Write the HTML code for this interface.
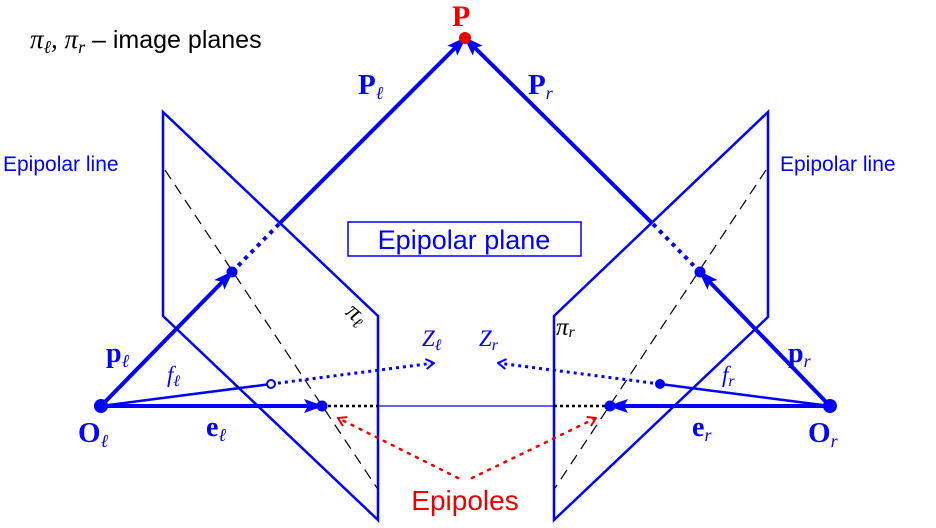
<!DOCTYPE html>
<html><head><style>body{margin:0;background:#fff}svg{display:block}</style></head><body>
<svg width="936" height="528" viewBox="0 0 936 528" xmlns="http://www.w3.org/2000/svg">
<defs>
<marker id="big" markerWidth="20" markerHeight="14" refX="18" refY="7" orient="auto" markerUnits="userSpaceOnUse"><path d="M0,0 L20,7 L0,14 L4,7 Z" fill="#00f"/></marker>
<marker id="open" markerWidth="10" markerHeight="12" refX="9" refY="6" orient="auto" markerUnits="userSpaceOnUse"><path d="M1,1 L9,6 L1,11" fill="none" stroke="#00f" stroke-width="2"/></marker>
<marker id="ored" markerWidth="10" markerHeight="12" refX="9" refY="6" orient="auto" markerUnits="userSpaceOnUse"><path d="M1,1 L9,6 L1,11" fill="none" stroke="#e00" stroke-width="2"/></marker>
</defs>
<g font-family="Liberation Serif, serif">
<text x="30" y="48" font-size="27" font-style="italic">π<tspan font-size="18" dy="5">ℓ</tspan><tspan dy="-5">, π</tspan><tspan font-size="18" dy="5">r</tspan><tspan dy="-5" font-style="normal" font-family="Liberation Sans, sans-serif" font-size="25"> – image planes</tspan></text>
</g>
<polygon points="163,112 378,316 378,520 163,316" fill="none" stroke="#00f" stroke-width="2.5"/>
<polygon points="768,112 554,316 554,520 768,317" fill="none" stroke="#00f" stroke-width="2.5"/>
<line x1="165" y1="170" x2="377" y2="488" stroke="#000" stroke-width="1.2" stroke-dasharray="11,7"/>
<line x1="766" y1="170" x2="555" y2="488" stroke="#000" stroke-width="1.2" stroke-dasharray="11,7"/>
<line x1="322" y1="406" x2="378" y2="406" stroke="#000" stroke-width="2.5" stroke-dasharray="3,3"/>
<line x1="378" y1="406" x2="554" y2="406" stroke="#00f" stroke-width="1.2"/>
<line x1="554" y1="406" x2="610" y2="406" stroke="#000" stroke-width="2.5" stroke-dasharray="3,3"/>
<line x1="101" y1="406" x2="322" y2="406" stroke="#00f" stroke-width="4" marker-end="url(#big)"/>
<line x1="830" y1="406" x2="610" y2="406" stroke="#00f" stroke-width="4" marker-end="url(#big)"/>
<line x1="101" y1="406" x2="232" y2="272" stroke="#00f" stroke-width="4" marker-end="url(#big)"/>
<line x1="830" y1="406" x2="700" y2="272" stroke="#00f" stroke-width="4" marker-end="url(#big)"/>
<line x1="232" y1="272" x2="280" y2="223" stroke="#00f" stroke-width="4" stroke-dasharray="4,5"/>
<line x1="700" y1="272" x2="652" y2="223" stroke="#00f" stroke-width="4" stroke-dasharray="4,5"/>
<line x1="280" y1="223" x2="465" y2="38" stroke="#00f" stroke-width="4" marker-end="url(#big)"/>
<line x1="652" y1="223" x2="465" y2="38" stroke="#00f" stroke-width="4" marker-end="url(#big)"/>
<line x1="101" y1="406" x2="271" y2="384" stroke="#00f" stroke-width="2.5"/>
<line x1="830" y1="406" x2="660" y2="384" stroke="#00f" stroke-width="2.5"/>
<line x1="271" y1="384" x2="434" y2="363" stroke="#00f" stroke-width="3" stroke-dasharray="3,4" marker-end="url(#open)"/>
<line x1="660" y1="384" x2="498" y2="363" stroke="#00f" stroke-width="3" stroke-dasharray="3,4" marker-end="url(#open)"/>
<circle cx="271" cy="384" r="4" fill="#fff" stroke="#00f" stroke-width="2"/>
<circle cx="660" cy="384" r="5" fill="#00f"/>
<circle cx="101" cy="406" r="7" fill="#00f"/>
<circle cx="830" cy="406" r="7" fill="#00f"/>
<circle cx="232" cy="272" r="5.5" fill="#00f"/>
<circle cx="700" cy="272" r="5.5" fill="#00f"/>
<circle cx="322" cy="406" r="5.5" fill="#00f"/>
<circle cx="610" cy="406" r="5.5" fill="#00f"/>
<circle cx="465" cy="38" r="6" fill="#e00"/>
<line x1="458" y1="478" x2="338" y2="418" stroke="#e00" stroke-width="2.5" stroke-dasharray="2,7" stroke-linecap="round" marker-end="url(#ored)"/>
<line x1="472" y1="478" x2="596" y2="418" stroke="#e00" stroke-width="2.5" stroke-dasharray="2,7" stroke-linecap="round" marker-end="url(#ored)"/>
<rect x="348" y="222" width="233" height="34" fill="#fff" stroke="#00f" stroke-width="1.5"/>
<g font-family="Liberation Sans, sans-serif" fill="#00f">
<text x="464" y="249" font-size="27" text-anchor="middle">Epipolar plane</text>
<text x="3" y="171" font-size="21">Epipolar line</text>
<text x="780" y="171" font-size="21">Epipolar line</text>
</g>
<text x="465" y="510" font-family="Liberation Sans, sans-serif" font-size="28" fill="#e00" text-anchor="middle">Epipoles</text>
<g font-family="Liberation Serif, serif" fill="#00f" font-weight="bold">
<text x="452" y="26" font-size="30" fill="#e00">P</text>
<text x="358" y="94" font-size="29">P<tspan font-size="18" dy="5" font-style="italic" font-weight="normal">ℓ</tspan></text>
<text x="528" y="94" font-size="29">P<tspan font-size="18" dy="5" font-style="italic" font-weight="normal">r</tspan></text>
<text x="106" y="362" font-size="28">p<tspan font-size="18" dy="5" font-style="italic" font-weight="normal">ℓ</tspan></text>
<text x="788" y="362" font-size="28">p<tspan font-size="18" dy="5" font-style="italic" font-weight="normal">r</tspan></text>
<text x="78" y="442" font-size="29">O<tspan font-size="18" dy="5" font-style="italic" font-weight="normal">ℓ</tspan></text>
<text x="808" y="442" font-size="29">O<tspan font-size="18" dy="5" font-style="italic" font-weight="normal">r</tspan></text>
<text x="206" y="436" font-size="28">e<tspan font-size="18" dy="5" font-style="italic" font-weight="normal">ℓ</tspan></text>
<text x="692" y="436" font-size="28">e<tspan font-size="18" dy="5" font-style="italic" font-weight="normal">r</tspan></text>
</g>
<g font-family="Liberation Serif, serif" fill="#00f" font-style="italic">
<text x="167" y="382" font-size="23">f<tspan font-size="16" dy="4">ℓ</tspan></text>
<text x="722" y="382" font-size="23">f<tspan font-size="16" dy="4">r</tspan></text>
<text x="422" y="346" font-size="23">Z<tspan font-size="16" dy="4">ℓ</tspan></text>
<text x="479" y="346" font-size="23">Z<tspan font-size="16" dy="4">r</tspan></text>
</g>
<g font-family="Liberation Serif, serif" fill="#000" font-style="italic">
<text x="342" y="320" font-size="25" transform="rotate(40 352 320)">π<tspan font-size="16" dy="4">ℓ</tspan></text>
<text x="556" y="335" font-size="25">π<tspan font-size="16" dy="2">r</tspan></text>
</g>
</svg>
</body></html>
